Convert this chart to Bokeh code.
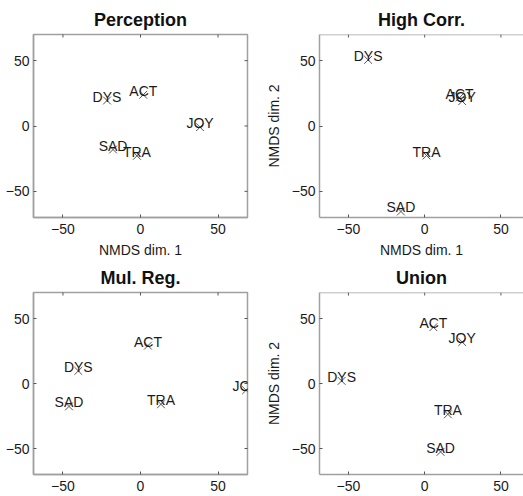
import math
from bokeh.plotting import figure
from bokeh.models import Range1d, LinearAxis, FixedTicker, ColumnDataSource, Label, Span
from bokeh.layouts import column, row
from bokeh.embed import file_html
from bokeh.resources import INLINE

# ---- data ----
labels = ["DYS", "ACT", "JOY", "SAD", "TRA"]

perc_x = [-21.6, 1.8, 38.4, -17.7, -2.3]
perc_y = [19.5, 23.9, -0.9, -18.0, -22.8]

high_x = [-37.1, 22.9, 24.6, -15.6, 1.2]
high_y = [50.6, 21.8, 19.0, -65.4, -22.6]

mul_x = [-40.1, 4.8, 68.1, -46.1, 13.2]
mul_y = [9.7, 29.1, -5.2, -17.6, -16.0]

uni_x = [-54.5, 5.7, 24.6, 10.4, 15.2]
uni_y = [2.0, 43.3, 31.9, -52.6, -23.7]

ticks = [-50, 0, 50]
y_lim = (-70, 70)

FONT = "Liberation Sans"
AX_COLOR = "#a0a0a0"
TICK_COLOR = "#555555"
TEXT_COLOR = "#1a1a1a"


def make_axis(minus_unicode):
    ax = LinearAxis(ticker=FixedTicker(ticks=ticks))
    ax.axis_line_color = AX_COLOR
    ax.axis_line_width = 1.5
    ax.major_tick_line_color = TICK_COLOR
    ax.major_tick_in = 3
    ax.major_tick_out = 0
    ax.minor_tick_line_color = None
    ax.major_label_text_font = FONT
    ax.major_label_text_color = TEXT_COLOR
    ax.major_label_text_font_size = "14px"
    ax.major_label_standoff = 4
    ax.axis_label_text_font = FONT
    ax.axis_label_text_font_style = "normal"
    ax.axis_label_text_color = TEXT_COLOR
    ax.axis_label_text_font_size = "14px"
    if minus_unicode:
        ax.major_label_overrides = {-50: "\u221250"}
    return ax


def make_panel(title, xs, ys, width, height, mbl, mbr, mbt, mbb, xr,
               xlabel, ylabel, y_unicode, full_box, title_offset):
    p = figure(width=width, height=height,
               x_range=Range1d(*xr), y_range=Range1d(*y_lim),
               output_backend="svg", toolbar_location=None,
               x_axis_location=None, y_axis_location=None,
               min_border_left=mbl, min_border_right=mbr,
               min_border_top=mbt, min_border_bottom=mbb)
    p.grid.visible = False
    p.background_fill_color = "white"
    p.border_fill_color = "white"

    p.title.text = title
    p.title.text_font = FONT
    p.title.text_font_size = "18px"
    p.title.text_font_style = "bold"
    p.title.text_color = "#111111"
    p.title.align = "center"
    p.title.standoff = 9
    p.title.offset = title_offset

    bx = make_axis(True)
    bx.major_label_standoff = 6
    if xlabel:
        bx.axis_label = xlabel
        bx.axis_label_standoff = 5
    p.add_layout(bx, "below")

    ly = make_axis(y_unicode)
    if ylabel:
        ly.axis_label = ylabel
        ly.axis_label_standoff = 7
    p.add_layout(ly, "left")

    # top border (+ right border for full boxes) and inward ticks
    if full_box:
        p.outline_line_color = AX_COLOR
        p.outline_line_width = 1.5
    else:
        p.outline_line_color = None
        p.add_layout(Span(location=y_lim[1], dimension="width",
                          line_color=AX_COLOR, line_width=1.5))
    p.scatter(ticks, [y_lim[1]] * len(ticks), marker="dash", angle=math.pi / 2,
              size=6, line_color=TICK_COLOR, line_width=1)
    if full_box:
        p.scatter([xr[1]] * len(ticks), ticks, marker="dash", size=6,
                  line_color=TICK_COLOR, line_width=1)

    src = ColumnDataSource(dict(x=xs, y=ys, label=labels))
    p.scatter("x", "y", source=src, marker="x", size=11,
              line_color="#555555", line_width=1)
    for xv, yv, lab in zip(xs, ys, labels):
        p.add_layout(Label(x=xv, y=yv, text=lab, text_align="center",
                           text_baseline="alphabetic", y_offset=4,
                           level="overlay",
                           text_font=FONT, text_font_size="14px",
                           text_color=TEXT_COLOR))
    return p


tl = make_panel("Perception", perc_x, perc_y, 262, 260, 33, 15, 34, 43,
                (-69, 69), "NMDS dim. 1", None, False, True, 0)
tr = make_panel("High Corr.", high_x, high_y, 261, 260, 54, 0, 34, 43,
                (-69, 64.8), "NMDS dim. 1", "NMDS dim. 2", True, False, 2.5)
bl = make_panel("Mul. Reg.", mul_x, mul_y, 262, 236, 33, 15, 32, 22,
                (-69, 69), None, None, False, True, 0)
br = make_panel("Union", uni_x, uni_y, 261, 236, 54, 0, 32, 22,
                (-69, 64.8), None, "NMDS dim. 2", True, False, 2.5)

layout = column(row(tl, tr), row(bl, br))

open("out.html", "w").write(file_html(layout, INLINE))
